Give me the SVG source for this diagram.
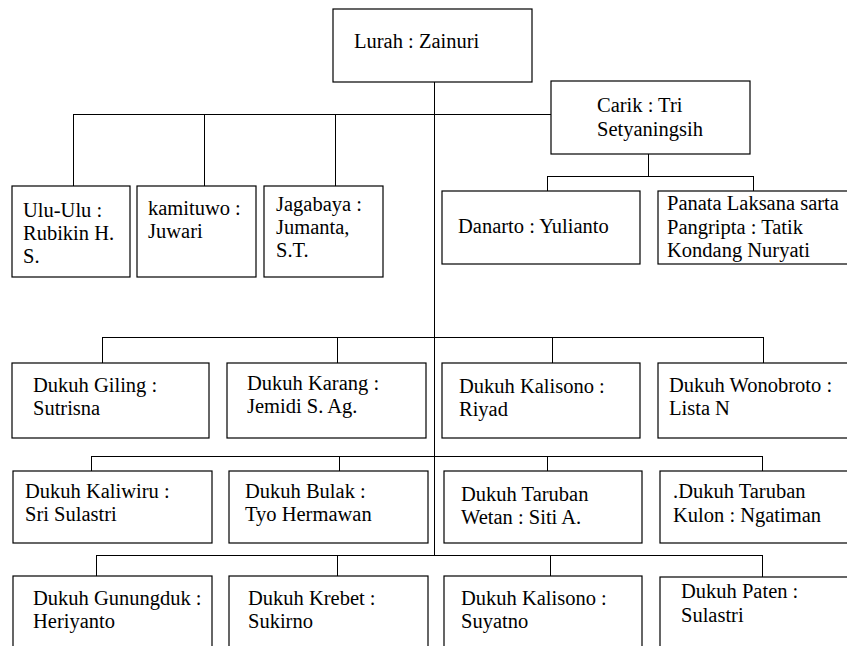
<svg xmlns="http://www.w3.org/2000/svg" width="847" height="646" viewBox="0 0 847 646">
<style>
.b{fill:#fff;stroke:#000;stroke-width:1.2}
.c path{fill:none;stroke:#000;stroke-width:1}
text{font-family:"Liberation Serif","Times New Roman",serif;font-size:20.5px;fill:#000}
</style>
<rect width="847" height="646" fill="#fff"/>
<g class="c" id="connectors">
<path d="M434.5 82V555"/>
<path d="M73 114.5H551M73.5 114V186M204.5 114V186M335.5 114V186"/>
<path d="M648.5 154V176M547 176.5H753M547.5 176V191M753.5 176V191"/>
<path d="M102 337.5H763M102.5 337V363M337.5 337V363M552.5 337V363M763.5 337V363"/>
<path d="M91 456.5H762M91.5 456V471M339.5 456V471M547.5 456V471M762.5 456V471"/>
<path d="M96 555.5H762M96.5 555V576M337.5 555V576M550.5 555V576M762.5 555V577"/>
</g>
<g id="lurah"><rect class="b" x="333" y="9" width="199" height="73"/><text x="354" y="48">Lurah : Zainuri</text></g>
<g id="carik"><rect class="b" x="551" y="81" width="199" height="73"/><text x="597" y="112">Carik : Tri</text><text x="597" y="136">Setyaningsih</text></g>
<g id="ulu"><rect class="b" x="12" y="186" width="118" height="91"/><text x="23" y="217">Ulu-Ulu :</text><text x="23" y="240">Rubikin H.</text><text x="23" y="263">S.</text></g>
<g id="kamituwo"><rect class="b" x="137" y="186" width="119" height="91"/><text x="148" y="215">kamituwo :</text><text x="148" y="238">Juwari</text></g>
<g id="jagabaya"><rect class="b" x="264" y="186" width="119" height="91"/><text x="276" y="211">Jagabaya :</text><text x="276" y="234">Jumanta,</text><text x="276" y="257">S.T.</text></g>
<g id="danarto"><rect class="b" x="442" y="191" width="198" height="73"/><text x="458" y="233">Danarto : Yulianto</text></g>
<g id="panata"><rect class="b" x="658" y="191" width="195" height="73"/><text x="667" y="210">Panata Laksana sarta</text><text x="667" y="234">Pangripta : Tatik</text><text x="667" y="257">Kondang Nuryati</text></g>
<g id="giling"><rect class="b" x="12" y="363" width="197" height="75"/><text x="33" y="392">Dukuh Giling :</text><text x="33" y="415">Sutrisna</text></g>
<g id="karang"><rect class="b" x="227" y="363" width="199" height="75"/><text x="247" y="390">Dukuh Karang :</text><text x="247" y="413">Jemidi S. Ag.</text></g>
<g id="kalisono1"><rect class="b" x="442" y="363" width="198" height="75"/><text x="459" y="393">Dukuh Kalisono :</text><text x="459" y="416">Riyad</text></g>
<g id="wonobroto"><rect class="b" x="658" y="363" width="195" height="75"/><text x="669" y="392">Dukuh Wonobroto :</text><text x="669" y="415">Lista N</text></g>
<g id="kaliwiru"><rect class="b" x="13" y="471" width="199" height="72"/><text x="25" y="498">Dukuh Kaliwiru :</text><text x="25" y="521">Sri Sulastri</text></g>
<g id="bulak"><rect class="b" x="229" y="471" width="199" height="72"/><text x="245" y="498">Dukuh Bulak :</text><text x="245" y="521">Tyo Hermawan</text></g>
<g id="tarubanwetan"><rect class="b" x="444" y="471" width="198" height="72"/><text x="461" y="501">Dukuh Taruban</text><text x="461" y="524">Wetan : Siti A.</text></g>
<g id="tarubankulon"><rect class="b" x="660" y="471" width="195" height="72"/><text x="673" y="498">.Dukuh Taruban</text><text x="673" y="522">Kulon : Ngatiman</text></g>
<g id="gunungduk"><rect class="b" x="13" y="576" width="199" height="80"/><text x="33" y="605">Dukuh Gunungduk :</text><text x="33" y="628">Heriyanto</text></g>
<g id="krebet"><rect class="b" x="229" y="576" width="199" height="80"/><text x="248" y="605">Dukuh Krebet :</text><text x="248" y="628">Sukirno</text></g>
<g id="kalisono2"><rect class="b" x="444" y="576" width="198" height="80"/><text x="461" y="605">Dukuh Kalisono :</text><text x="461" y="628">Suyatno</text></g>
<g id="paten"><rect class="b" x="660" y="577" width="195" height="80"/><text x="681" y="598">Dukuh Paten :</text><text x="681" y="622">Sulastri</text></g>
</svg>
